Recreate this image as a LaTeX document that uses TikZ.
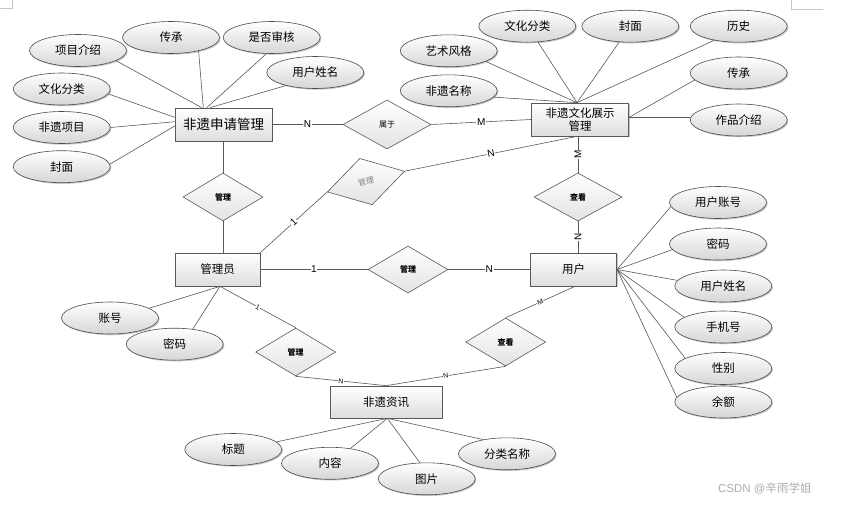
\documentclass[tikz,border=0pt]{standalone}
\usepackage{fontspec}
\setmainfont{Liberation Sans}
\newfontfamily\cjk{Noto Sans CJK SC}
\usetikzlibrary{shapes.geometric,shadows}
\tikzset{
  shad/.style={drop shadow={shadow xshift=1.2pt,shadow yshift=-1.2pt,fill=black,opacity=0.22}},
  ent/.style={rectangle,draw=black!65,line width=0.7pt,top color=white,bottom color=black!13,
    inner sep=0pt,minimum height=33pt,align=center,shad,font=\cjk\fontsize{11.5}{13}\selectfont},
  attr/.style={ellipse,draw=black!70,line width=0.6pt,top color=white,bottom color=black!16,
    minimum width=97pt,minimum height=32pt,inner sep=0pt,shad,font=\cjk\fontsize{11.5}{13}\selectfont},
  rel/.style={diamond,draw=black!65,line width=0.6pt,top color=white,bottom color=black!11,
    minimum width=80pt,minimum height=48pt,inner sep=0pt,font=\cjk\fontsize{8}{9}\selectfont},
  conn/.style={draw=black!65,line width=0.6pt},
  lab/.style={fill=white,inner sep=0.6pt,font=\fontsize{10}{11}\selectfont},
  slab/.style={fill=white,inner sep=0.4pt,font=\fontsize{7}{8}\selectfont},
  cornermark/.style={draw=black!22,line width=0.5pt}
}
\begin{document}
\begin{tikzpicture}[x=1pt,y=-1pt]
\useasboundingbox (0,0) rectangle (847,504);
\fill[white] (0,0) rectangle (847,504);
% page corner marks
\coordinate (tl1) at (12.3,0); \coordinate (tl2) at (12.3,8.3); \coordinate (tl3) at (0,8.3);
\draw[cornermark] (tl1) -- (tl2) -- (tl3);
\coordinate (tr1) at (791.7,0); \coordinate (tr2) at (791.7,9.3); \coordinate (tr3) at (823.3,9.3);
\draw[cornermark] (tr1) -- (tr2) -- (tr3);

% entities
\node[ent,minimum width=97pt,font=\cjk\fontsize{13.5}{15}\selectfont] (sq) at (223.5,124.5) {非遗申请管理};
\node[ent,minimum width=97pt] (zs) at (580,119.5) {非遗文化展示\\管理};
\node[ent,minimum width=85pt] (gly) at (217.5,269.5) {管理员};
\node[ent,minimum width=86pt] (yh) at (573.7,269.5) {用户};
\node[ent,minimum width=112pt,minimum height=32pt] (zx) at (386,402) {非遗资讯};

% relationships
\node[rel,minimum width=88pt,minimum height=49pt] (sy) at (387,124.5) {属于};
\node[rel] (gl1) at (223,197) {\bfseries 管理};
\node[rel,rotate=15,text=black!50] (gl2) at (366,181.6) {管理};
\node[rel,minimum height=47pt] (gl3) at (408,269.5) {\bfseries 管理};
\node[rel,minimum width=88pt] (ck1) at (578,197) {\bfseries 查看};
\node[rel] (gl4) at (295.7,352) {\bfseries 管理};
\node[rel] (ck2) at (505.7,342) {\bfseries 查看};

% attributes of 非遗申请管理
\node[attr] (a1) at (78,50.5) {项目介绍};
\node[attr] (a2) at (171,37.5) {传承};
\node[attr] (a3) at (271.7,37.5) {是否审核};
\node[attr] (a4) at (315.3,72.5) {用户姓名};
\node[attr] (a5) at (61.7,89) {文化分类};
\node[attr] (a6) at (61.7,127.5) {非遗项目};
\node[attr] (a7) at (61.7,166.7) {封面};

% attributes of 非遗文化展示管理
\node[attr] (b1) at (448.7,50.8) {艺术风格};
\node[attr] (b2) at (527.3,26.2) {文化分类};
\node[attr] (b3) at (630.3,26.2) {封面};
\node[attr] (b4) at (738.7,26.2) {历史};
\node[attr] (b5) at (448.7,90.8) {非遗名称};
\node[attr] (b6) at (738.7,73) {传承};
\node[attr] (b7) at (738.7,120) {作品介绍};

% attributes of 管理员
\node[attr] (c1) at (110,318) {账号};
\node[attr] (c2) at (174.7,344.2) {密码};

% attributes of 用户
\node[attr] (d1) at (718,202.5) {用户账号};
\node[attr] (d2) at (718,244) {密码};
\node[attr] (d3) at (723.3,286) {用户姓名};
\node[attr] (d4) at (723.3,327) {手机号};
\node[attr] (d5) at (723.3,368.5) {性别};
\node[attr] (d6) at (723.3,402) {余额};

% attributes of 非遗资讯
\node[attr] (e1) at (233.3,449.5) {标题};
\node[attr] (e2) at (330,463.3) {内容};
\node[attr] (e3) at (426.7,478.8) {图片};
\node[attr] (e4) at (507,453.8) {分类名称};

% attribute connectors
\draw[conn] (a1.-15) -- ([xshift=-21.8pt]sq.north);
\draw[conn] (a2.-26) -- ([xshift=-20.2pt]sq.north);
\draw[conn] (a3.-108) -- ([xshift=-16.8pt]sq.north);
\draw[conn] (a4.-156) -- ([xshift=-13.5pt]sq.north);
\draw[conn] (a5.-6) -- ([yshift=7.2pt]sq.west);
\draw[conn] (a6.0) -- ([yshift=2.8pt]sq.west);
\draw[conn] (a7.3) -- ([yshift=-1.5pt]sq.west);

\draw[conn] (b1.-16) -- ([xshift=-3pt]zs.north);
\draw[conn] (b2.-56) -- ([xshift=-3pt]zs.north);
\draw[conn] (b3.-125) -- ([xshift=-3pt]zs.north);
\draw[conn] (b4.-150) -- ([xshift=-3pt]zs.north);
\draw[conn] (b5.-8) -- ([xshift=-3pt]zs.north);
\draw[conn] (b6.189) -- ([yshift=2pt]zs.east);
\draw[conn] (b7.177) -- ([yshift=2pt]zs.east);

\draw[conn] (c1.14) -- ([xshift=2.5pt]gly.south);
\draw[conn] (c2.40) -- ([xshift=2.5pt]gly.south);

\draw[conn] (d1.185) -- (yh.east);
\draw[conn] (d2.187) -- (yh.east);
\draw[conn] (d3.173) -- (yh.east);
\draw[conn] (d4.166) -- (yh.east);
\draw[conn] (d5.165) -- (yh.east);
\draw[conn] (d6.174) -- (yh.east);

\draw[conn] (e1.10) -- ([xshift=1.3pt]zx.south);
\draw[conn] (e2.36) -- ([xshift=1.3pt]zx.south);
\draw[conn] (e3.113) -- ([xshift=1.3pt]zx.south);
\draw[conn] (e4.149) -- ([xshift=1.3pt]zx.south);

% relationship connectors
\draw[conn] (sq.east) -- node[lab]{N} (sy.west);
\draw[conn] (sy.east) -- node[lab]{M} (zs.west);
\draw[conn] (sq.south -| gl1.north) -- (gl1.north);
\draw[conn] (gl1.south) -- (gl1.south |- gly.north);
\draw[conn] (gly.north east) -- node[lab,sloped]{1} (gl2.west);
\draw[conn] (gl2.east) -- node[lab,sloped]{N} ([xshift=-3pt]zs.south);
\draw[conn] (gly.east) -- node[lab]{1} (gl3.west);
\draw[conn] (gl3.east) -- node[lab]{N} (yh.west);
\draw[conn] (ck1.north |- zs.south) -- node[lab,rotate=90]{M} (ck1.north);
\draw[conn] (ck1.south) -- node[lab,rotate=90]{N} (ck1.south |- yh.north);
\draw[conn] ([xshift=2.5pt]gly.south) -- node[slab,sloped]{1} (gl4.north);
\draw[conn] (gl4.south) -- node[slab,sloped]{N} (zx.north);
\draw[conn] ([xshift=1.3pt]yh.south) -- node[slab,sloped]{M} (ck2.north);
\draw[conn] (ck2.south) -- node[slab,sloped]{N} (zx.north);

% watermark
\node[anchor=west,inner sep=0pt,text=black!32,font=\fontsize{11.5}{13}\selectfont] (wm) at (718,488) {CSDN @{\cjk 辛雨学姐}};
\end{tikzpicture}
\end{document}
